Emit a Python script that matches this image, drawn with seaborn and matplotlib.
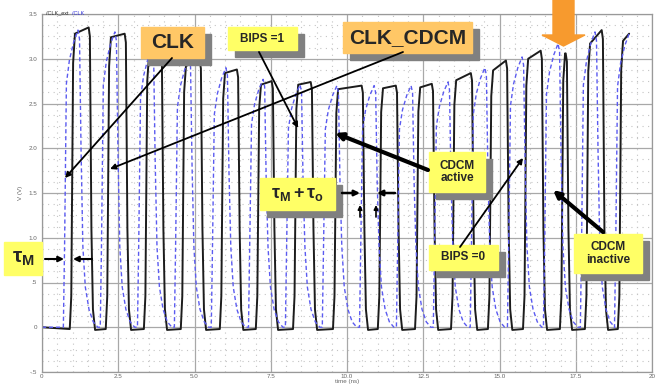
import matplotlib
matplotlib.use('Agg')
import matplotlib.pyplot as plt
from matplotlib.patches import Rectangle, Polygon
from matplotlib.ticker import MultipleLocator
import seaborn as sns
import pandas as pd

sns.set_style('white')
plt.rcParams['font.family'] = ['Liberation Sans', 'DejaVu Sans']
plt.rcParams['mathtext.fontset'] = 'custom'
plt.rcParams['mathtext.rm'] = 'Liberation Sans:bold'
plt.rcParams['mathtext.it'] = 'Liberation Sans:bold'
plt.rcParams['mathtext.bf'] = 'Liberation Sans:bold'

W, H = 658, 389

# CLK_CDCM (black): rising / falling edge (ns), top level at start / end of pulse (V)
cdcm_rise = [0.98, 2.16, 3.41, 4.62, 5.90, 7.08, 8.30, 9.61, 11.08, 12.30, 13.48, 14.69, 15.84, 17.05, 17.87, 18.95]
cdcm_fall = [1.57, 2.75, 3.93, 5.21, 6.43, 7.57, 8.85, 10.52, 11.64, 12.82, 14.10, 15.25, 16.39, 17.21, 18.39, 19.25]
cdcm_top_start = [3.28, 3.24, 3.05, 2.92, 2.84, 2.71, 2.71, 2.66, 2.67, 2.68, 2.76, 2.87, 3.00, 3.06, 3.17, 3.20]
cdcm_top_end = [3.35, 3.28, 3.10, 2.98, 2.88, 2.75, 2.74, 2.70, 2.70, 2.72, 2.84, 2.98, 3.09, 3.06, 3.32, 3.28]

# CLK (blue dashed): time of each peak (ns) and peak level (V)
clk_peak_t = [1.18, 2.39, 3.61, 4.82, 6.03, 7.25, 8.46, 9.67, 10.89, 12.10, 13.31, 14.52, 15.74, 16.92, 18.13, 19.25]
clk_peak_v = [3.32, 3.30, 3.12, 3.00, 2.90, 2.77, 2.71, 2.70, 2.70, 2.70, 2.74, 2.90, 3.02, 3.17, 3.30, 3.28]

t_end = 19.25
x_ticks = [0, 2.5, 5, 7.5, 10, 12.5, 15, 17.5, 20]
x_labels = ['0', '2.5', '5.0', '7.5', '10.0', '12.5', '15.0', '17.5', '20']
y_ticks = [-0.5, 0, 0.5, 1.0, 1.5, 2.0, 2.5, 3.0, 3.5]
y_labels = ['-.5', '0', '.5', '1.0', '1.5', '2.0', '2.5', '3.0', '3.5']


def cdcm_trace():
    t, v = [0.0], [0.0]
    for r, f, a, b in zip(cdcm_rise, cdcm_fall, cdcm_top_start, cdcm_top_end):
        t += [r - 0.07, r - 0.02, r + 0.04, r + 0.1]
        v += [-0.02, 0.35, 0.9 * a, a]
        if f >= t_end:
            t.append(t_end)
            v.append(b)
            break
        t += [f - 0.04, f, f + 0.05, f + 0.1, f + 0.17]
        v += [b, 0.97 * b, 1.1, 0.2, -0.03]
    return pd.DataFrame({'t': t, 'v': v})


def clk_trace():
    t, v = [0.0], [0.0]
    for p, h in zip(clk_peak_t, clk_peak_v):
        t += [p - 0.48, p - 0.44, p - 0.38, p - 0.28, p - 0.14, p]
        v += [0.0, 0.9, 0.82 * h, 0.9 * h, 0.96 * h, h]
        if p >= t_end:
            break
        t += [p + 0.05, p + 0.1, p + 0.16, p + 0.24, p + 0.36, p + 0.5, p + 0.65]
        v += [0.97 * h, 0.6 * h, 0.9, 0.45, 0.2, 0.06, 0.0]
    return pd.DataFrame({'t': t, 'v': v})


fig = plt.figure(figsize=(W / 100, H / 100), dpi=100)
ax = fig.add_axes([42 / W, 1 - 372 / H, (652 - 42) / W, (372 - 14) / H])

sns.lineplot(data=cdcm_trace(), x='t', y='v', ax=ax, color='#1c1c1c', lw=1.4,
             estimator=None, sort=False)
sns.lineplot(data=clk_trace(), x='t', y='v', ax=ax, color='#5b5bf0', lw=1.0,
             estimator=None, sort=False, dashes=False, linestyle=(0, (3, 2)))

ax.set_xlim(0, 20)
ax.set_ylim(-0.5, 3.5)
ax.set_xticks(x_ticks)
ax.set_xticklabels(x_labels)
ax.set_yticks(y_ticks)
ax.set_yticklabels(y_labels)
ax.xaxis.set_minor_locator(MultipleLocator(0.5))
ax.yaxis.set_minor_locator(MultipleLocator(0.125))
ax.grid(which='major', color='#a8a8a8', lw=0.9)
ax.grid(which='minor', color='#c4c4c4', lw=0.8, linestyle=(0, (1, 4)))
ax.tick_params(which='both', direction='out', labelsize=4.5, labelcolor='#666666',
               color='#888888', length=2, width=0.6, pad=1.5)
ax.tick_params(which='minor', length=1.5)
ax.tick_params(axis='x', which='both', length=0)
ax.set_xlabel('time (ns)', fontsize=4.5, color='#666666', labelpad=0)
ax.set_ylabel('V (V)', fontsize=4.5, color='#666666', labelpad=4)
for s in ax.spines.values():
    s.set_color('#999999')
    s.set_linewidth(0.9)

# overlay in pixel coordinates for the slide annotations
ov = fig.add_axes([0, 0, 1, 1])
ov.set_xlim(0, W)
ov.set_ylim(H, 0)
ov.axis('off')
ov.patch.set_alpha(0)

ov.text(46, 13, '/CLK_ext', fontsize=4, color='#333333', va='center')
ov.text(72, 13, '/CLK', fontsize=4, color='#3333dd', va='center')

ORANGE = '#FFC766'
YELLOW = '#FFFF66'


def box(x0, y0, x1, y1, text, color, size, shadow=7):
    if shadow:
        ov.add_patch(Rectangle((x0 + shadow, y0 + shadow), x1 - x0, y1 - y0,
                               color='#808080', zorder=3))
    ov.add_patch(Rectangle((x0, y0), x1 - x0, y1 - y0, color=color, zorder=4))
    ov.text((x0 + x1) / 2, (y0 + y1) / 2, text, fontsize=size, fontweight='bold',
            ha='center', va='center', zorder=5, linespacing=1.05)


def arrow(x0, y0, x1, y1, lw=1.3, ms=8):
    ov.annotate('', xy=(x1, y1), xytext=(x0, y0),
                arrowprops=dict(arrowstyle='-|>', lw=lw, color='black',
                                mutation_scale=ms, shrinkA=0, shrinkB=0), zorder=6)


box(141, 27, 204, 58, 'CLK', ORANGE, 15)
box(228, 27, 297, 50, 'BIPS =1', YELLOW, 8.5)
box(343, 22, 472, 53, 'CLK_CDCM', ORANGE, 15)
box(4, 242, 42, 275, r'$\tau_{M}$', YELLOW, 15, shadow=0)
box(260, 178, 335, 210, r'$\tau_{M} + \tau_{o}$', YELLOW, 13)
box(429, 152, 485, 192, 'CDCM\nactive', YELLOW, 8.5)
box(429, 245, 498, 270, 'BIPS =0', YELLOW, 8.5)
box(574, 234, 642, 273, 'CDCM\ninactive', YELLOW, 8.5)

ov.add_patch(Polygon([(553, 0), (574, 0), (574, 35), (585, 35), (563.5, 46),
                      (542, 35), (553, 35)], closed=True, color='#F79A2E', zorder=6))

arrow(172, 58, 65, 178)
arrow(403, 52, 110, 169)
arrow(259, 52, 298, 128)
arrow(428, 170, 335, 133, lw=3, ms=10)
arrow(460, 247, 523, 158)
arrow(603, 232, 553, 190, lw=3, ms=10)
arrow(45, 259, 64, 259, lw=1.5)
arrow(92, 259, 73, 259, lw=1.5)
arrow(342, 193, 360, 193, lw=1.8)
arrow(395, 193, 377, 193, lw=1.8)
arrow(360, 217, 360, 205, lw=1.2, ms=6)
arrow(376, 217, 376, 205, lw=1.2, ms=6)

fig.savefig('out.png', dpi=100)
